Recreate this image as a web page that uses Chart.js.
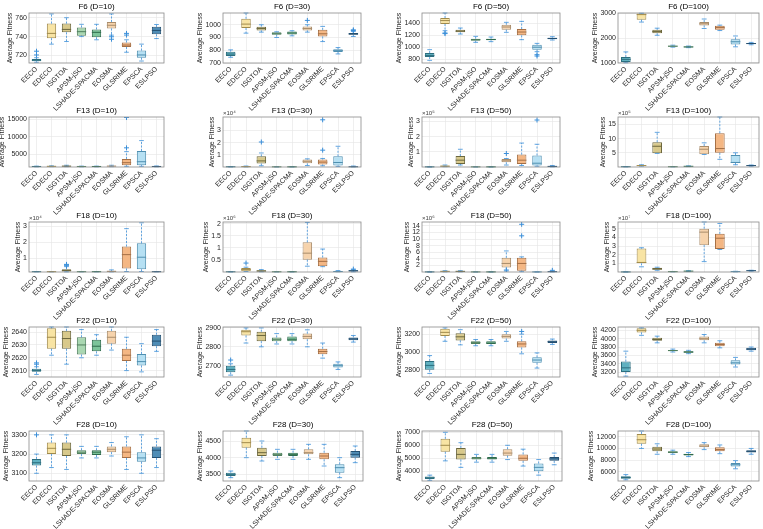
<!DOCTYPE html>
<html>
<head>
<meta charset="utf-8">
<script src="https://cdn.jsdelivr.net/npm/chart.js@4.4.0/dist/chart.umd.min.js"></script>
<style>
  body { margin: 0; background: #fff; }
  #wrap { position: relative; width: 763px; height: 529px; overflow: hidden; }
  #wrap canvas { position: absolute; }
</style>
</head>
<body>
<div id="wrap"></div>
<script>
// algorithms on the x axis
const algorithms = ['EECO', 'EDECO', 'ISGTOA', 'APSM-jSO', 'LSHADE-SPACMA', 'EOSMA', 'GLSRIME', 'EPSCA', 'ESLPSO'];

// each box: [lower whisker, q1, median, q3, upper whisker], outliers: [algorithm index, value]
const f6d10 = [[712.8,713.8,715,716.2,717.6],[732,738.3,743.4,753.8,764],[734.8,744.5,747.6,753.8,760],[740,741,745.2,749.7,753],[736.6,739.3,744.5,747.6,753],[741.5,748.6,752,755.5,764],[723.4,729,731,733.8,736.6],[714.1,717.6,720.5,725.2,732],[737.9,742.4,746.5,750.3,752.8]];
const f6d10Out = [[0,724.5],[0,720.5],[5,739.8],[5,737.2],[6,743.4],[6,741.6]];
const f6d30 = [[745,755,770,789,803],[934,974,1005,1047,1092],[942,955,970,985,1000],[900,922,930,942,945],[913,924,935,947,953],[942,955,970,987,1000],[868,908,929,960,987],[771,787,797,808,821],[908,922,928,935,947]];
const f6d30Out = [[5,1034],[8,960],[8,955]];
const f6d50 = [[784,839,865,905,960],[1273,1383,1440,1482,1565],[1218,1246,1265,1290,1317],[1081,1108,1125,1141,1180],[1092,1114,1128,1141,1169],[1246,1290,1334,1372,1411],[1125,1196,1251,1301,1427],[927,960,1000,1042,1064],[1119,1130,1145,1158,1174]];
const f6d50Out = [[1,1235],[1,1225],[7,877],[7,855]];
const f6d100 = [[1000,1027,1137,1233,1438],[2644,2740,2945,2986,3000],[2110,2192,2260,2329,2397],[1630,1650,1671,1690,1710],[1610,1620,1640,1660,1675],[2384,2507,2575,2644,2767],[2301,2329,2420,2493,2520],[1644,1740,1849,1945,2082],[1726,1753,1775,1794,1822]];
const f6d100Out = [];

const f13d10 = [[1350,1400,1450,1500,1550],[1400,1450,1500,1560,1650],[1400,1480,1550,1650,1800],[1350,1400,1450,1500,1550],[1350,1400,1450,1500,1550],[1400,1500,1560,1650,1800],[1500,1800,2546,3636,5727],[1500,1818,2818,5909,8909],[1350,1400,1450,1520,1600]];
const f13d10Out = [[6,6818],[6,15545]];
const f13d30 = [[0.01,0.015,0.02,0.025,0.03],[0.01,0.02,0.03,0.05,0.08],[0.1,0.28,0.5,0.88,1.15],[0.01,0.012,0.015,0.02,0.025],[0.01,0.012,0.015,0.02,0.025],[0.12,0.3,0.47,0.62,0.67],[0.1,0.2,0.4,0.62,0.7],[0.05,0.12,0.37,0.88,1.7],[0.01,0.015,0.02,0.03,0.08]];
const f13d30Out = [[2,2.05],[6,1.38],[6,3.87]];
const f13d50 = [[0.005,0.008,0.01,0.012,0.015],[0.02,0.03,0.05,0.1,0.13],[0.13,0.2,0.45,0.72,1.17],[0.005,0.008,0.01,0.012,0.015],[0.005,0.008,0.01,0.012,0.015],[0.13,0.31,0.41,0.52,0.56],[0.1,0.2,0.45,0.82,1.58],[0.05,0.1,0.25,0.76,1.5],[0.01,0.02,0.04,0.06,0.1]];
const f13d50Out = [[5,0.89],[7,3.1]];
const f13d100 = [[0.05,0.08,0.1,0.12,0.15],[0.3,0.4,0.5,0.6,0.8],[4.77,4.8,7.3,8.75,12.2],[0.05,0.08,0.1,0.12,0.15],[0.15,0.2,0.25,0.3,0.4],[4.4,4.5,6.25,7.4,8.5],[2.7,5,6.5,11.9,17.6],[0.8,1.4,1.6,4.2,5],[0.3,0.4,0.5,0.6,0.7]];
const f13d100Out = [];

const f18d10 = [[0.18,0.185,0.19,0.195,0.2],[0.18,0.185,0.19,0.195,0.2],[0.18,0.2,0.26,0.34,0.5],[0.18,0.185,0.19,0.195,0.2],[0.18,0.185,0.19,0.195,0.2],[0.18,0.19,0.21,0.24,0.3],[0.2,0.38,1.24,1.74,2.84],[0.2,0.34,1.08,1.94,3.2],[0.18,0.185,0.19,0.195,0.2]];
const f18d10Out = [[2,0.55],[2,0.6],[2,0.64]];
const f18d30 = [[0.005,0.008,0.01,0.012,0.015],[0.02,0.03,0.1,0.17,0.2],[0.01,0.02,0.04,0.07,0.1],[0.005,0.008,0.01,0.012,0.015],[0.005,0.008,0.01,0.012,0.015],[0.24,0.51,0.78,1.23,2.05],[0.22,0.24,0.44,0.6,0.95],[0.01,0.015,0.02,0.03,0.06],[0.01,0.02,0.05,0.07,0.1]];
const f18d30Out = [[1,0.37],[8,0.12]];
const f18d50 = [[0.01,0.02,0.03,0.04,0.05],[0.05,0.1,0.2,0.3,0.4],[0.05,0.1,0.2,0.3,0.4],[0.01,0.02,0.03,0.04,0.05],[0.01,0.02,0.03,0.04,0.05],[0.3,1.4,2.6,4.3,6.4],[0.1,0.4,2.6,4.3,4.6],[0.01,0.02,0.03,0.04,0.05],[0.02,0.05,0.1,0.15,0.2]];
const f18d50Out = [[5,0.6],[6,11],[6,14.5],[8,0.5]];
const f18d100 = [[0.005,0.008,0.01,0.012,0.015],[0.6,1.0,1.1,2.7,2.8],[0.2,0.25,0.35,0.5,0.55],[0.02,0.03,0.04,0.05,0.06],[0.05,0.08,0.1,0.12,0.15],[1.2,3.1,4.6,5.0,5.77],[2.6,2.65,3.9,4.4,5.6],[0.02,0.03,0.05,0.07,0.08],[0.1,0.12,0.15,0.18,0.2]];
const f18d100Out = [];

const f22d10 = [[2607,2609,2610,2611.5,2613],[2622,2627,2636,2643,2644],[2615,2627,2635,2641,2644],[2620,2622.5,2630,2636,2642],[2622,2625,2629,2634,2638],[2626,2631,2636,2641,2644],[2610,2617.5,2622,2627,2636],[2609,2614,2617,2623,2631],[2625,2629,2633,2638,2642]];
const f22d10Out = [[0,2615],[0,2616]];
const f22d30 = [[2650,2665,2680,2700,2710],[2820,2860,2880,2890,2900],[2800,2830,2860,2880,2900],[2815,2830,2840,2850,2870],[2815,2830,2840,2855,2870],[2800,2840,2855,2870,2890],[2740,2760,2775,2790,2820],[2680,2690,2700,2710,2720],[2825,2835,2842,2850,2860]];
const f22d30Out = [[0,2730]];
const f22d50 = [[2760,2800,2850,2900,2960],[3120,3180,3220,3260,3270],[3080,3130,3170,3210,3250],[3070,3090,3105,3120,3140],[3070,3090,3100,3120,3140],[3120,3150,3175,3200,3230],[2980,3050,3090,3120,3200],[2820,2880,2910,2940,2990],[3085,3100,3115,3130,3145]];
const f22d50Out = [[6,3230]];
const f22d100 = [[3100,3200,3300,3450,3700],[4080,4150,4200,4250,4260],[3900,3950,3980,4020,4060],[3680,3700,3715,3730,3750],[3640,3660,3680,3700,3720],[3900,3960,4000,4050,4100],[3780,3820,3860,3900,3950],[3320,3380,3420,3480,3550],[3700,3720,3750,3780,3800]];
const f22d100Out = [];

const f28d10 = [[3100,3140,3155,3175,3200],[3130,3200,3230,3260,3300],[3120,3190,3225,3260,3300],[3180,3200,3210,3220,3240],[3180,3195,3210,3220,3240],[3190,3210,3225,3240,3260],[3120,3180,3210,3240,3290],[3100,3160,3180,3210,3300],[3130,3180,3220,3240,3280]];
const f28d10Out = [[0,3300]];
const f28d30 = [[3400,3450,3500,3550,3600],[4000,4300,4450,4600,4800],[3900,4050,4150,4300,4500],[3950,4050,4100,4150,4250],[3950,4050,4100,4150,4250],[3950,4100,4150,4250,4400],[3750,3950,4050,4150,4400],[3400,3550,3700,3800,4000],[3850,4000,4100,4200,4350]];
const f28d30Out = [];
const f28d50 = [[3300,3400,3500,3600,3700],[4800,5500,6000,6500,7000],[4300,4900,5300,5800,6200],[4700,4900,5000,5100,5300],[4700,4900,5000,5100,5300],[4900,5200,5400,5700,6000],[4400,4800,5000,5300,5700],[3700,4000,4300,4600,4900],[4500,4800,4950,5100,5400]];
const f28d50Out = [];
const f28d100 = [[4600,4800,5000,5200,5500],[10000,10800,11500,12500,13000],[9000,9500,9900,10300,10800],[9000,9200,9350,9500,9700],[8600,8800,8950,9100,9300],[9800,10200,10400,10700,11000],[9100,9500,9800,10200,10600],[6500,6900,7200,7500,7900],[9000,9300,9500,9700,10000]];
const f28d100Out = [];

// y-axis limits and tick labels
const yLimits = [
  [712, 765], [700, 1092], [740, 1565], [990, 3010],
  [1300, 15700], [0, 4.1], [0, 3.3], [0, 17.6],
  [0.17, 3.25], [0, 2.07], [0, 15.2], [0, 5.77],
  [2605, 2644], [2640, 2905], [2720, 3280], [3080, 4280],
  [3060, 3320], [3300, 4800], [3250, 7100], [4400, 13000]
];
const yTicks = [
  [720, 740, 760], [700, 800, 900, 1000], [800, 1000, 1200, 1400], [1000, 2000, 3000],
  [5000, 10000, 15000], [1, 2, 3], [1, 2, 3], [5, 10, 15],
  [1, 2, 3], [0.5, 1, 1.5, 2], [2, 4, 6, 8, 10, 12, 14], [1, 2, 3, 4, 5],
  [2610, 2620, 2630, 2640], [2700, 2800, 2900], [2800, 3000, 3200], [3200, 3400, 3600, 3800, 4000, 4200],
  [3100, 3200, 3300], [3500, 4000, 4500], [4000, 5000, 6000, 7000], [6000, 8000, 10000, 12000]
];
const yExponent = [0, 0, 0, 0, 0, 4, 5, 5, 4, 6, 6, 7, 0, 0, 0, 0, 0, 0, 0, 0];
const titles = ['F6 (D=10)', 'F6 (D=30)', 'F6 (D=50)', 'F6 (D=100)',
  'F13 (D=10)', 'F13 (D=30)', 'F13 (D=50)', 'F13 (D=100)',
  'F18 (D=10)', 'F18 (D=30)', 'F18 (D=50)', 'F18 (D=100)',
  'F22 (D=10)', 'F22 (D=30)', 'F22 (D=50)', 'F22 (D=100)',
  'F28 (D=10)', 'F28 (D=30)', 'F28 (D=50)', 'F28 (D=100)'];
const stats = [f6d10, f6d30, f6d50, f6d100, f13d10, f13d30, f13d50, f13d100,
  f18d10, f18d30, f18d50, f18d100, f22d10, f22d30, f22d50, f22d100,
  f28d10, f28d30, f28d50, f28d100];
const outliers = [f6d10Out, f6d30Out, f6d50Out, f6d100Out, f13d10Out, f13d30Out, f13d50Out, f13d100Out,
  f18d10Out, f18d30Out, f18d50Out, f18d100Out, f22d10Out, f22d30Out, f22d50Out, f22d100Out,
  f28d10Out, f28d30Out, f28d50Out, f28d100Out];

const boxFill = ['#5fb1c1', '#f8e4a4', '#d8c98b', '#a9d7b1', '#7cc49a', '#f6d3ac', '#f4b784', '#b6e0f3', '#4f8db6'];
const boxEdge = ['#2d6e7e', '#a08a4c', '#6c673d', '#507f5e', '#2f6b4c', '#a88c6b', '#a56f45', '#4f8fb0', '#244f70'];
const whiskerColor = '#3b8fd9';
const fam = '"Liberation Sans", Arial, sans-serif';

// panel placement (plot areas)
const colLeft = [29, 223, 422, 618];
const colRight = [166, 363, 562, 759];
const rowTop = [13, 117, 222, 327, 431];
const plotH = 50, padTop = 13, axW = 40, axH = 48, padBottom = 20;

function boxParts(idx) {
  return {
    id: 'boxParts' + idx,
    afterDatasetsDraw(chart) {
      const { ctx, chartArea: a, scales: { x, y } } = chart;
      const meta = chart.getDatasetMeta(0);
      ctx.save();
      ctx.beginPath();
      ctx.rect(a.left, a.top - 1, a.right - a.left, a.bottom - a.top + 2);
      ctx.clip();
      stats[idx].forEach((st, i) => {
        const cx = x.getPixelForValue(i);
        const w = meta.data[i].width;
        const [lo, q1, md, q3, hi] = st.map(v => y.getPixelForValue(v));
        ctx.strokeStyle = whiskerColor;
        ctx.lineWidth = 0.8;
        ctx.setLineDash([2, 1.5]);
        ctx.beginPath();
        ctx.moveTo(cx, q3); ctx.lineTo(cx, hi);
        ctx.moveTo(cx, q1); ctx.lineTo(cx, lo);
        ctx.stroke();
        ctx.setLineDash([]);
        ctx.beginPath();
        ctx.moveTo(cx - w / 4, hi); ctx.lineTo(cx + w / 4, hi);
        ctx.moveTo(cx - w / 4, lo); ctx.lineTo(cx + w / 4, lo);
        ctx.stroke();
        ctx.strokeStyle = boxEdge[i];
        ctx.lineWidth = 1;
        ctx.beginPath();
        ctx.moveTo(cx - w / 2, md); ctx.lineTo(cx + w / 2, md);
        ctx.stroke();
      });
      ctx.restore();
    },
    afterDraw(chart) {
      const { ctx, chartArea: a, scales: { y } } = chart;
      ctx.save();
      // axes box
      ctx.strokeStyle = '#8a8a8a';
      ctx.lineWidth = 0.8;
      ctx.strokeRect(a.left, a.top, a.right - a.left, a.bottom - a.top);
      // title
      ctx.fillStyle = '#000';
      ctx.font = '8px ' + fam;
      ctx.textAlign = 'center';
      ctx.textBaseline = 'bottom';
      ctx.fillText(titles[idx], (a.left + a.right) / 2, a.top - 2);
      // exponent
      if (yExponent[idx]) {
        const sup = '⁰¹²³⁴⁵⁶⁷⁸⁹';
        ctx.font = '6px ' + fam;
        ctx.textAlign = 'left';
        ctx.fillStyle = '#404040';
        ctx.fillText('×10' + sup[yExponent[idx]], a.left, a.top - 1);
      }
      // y-axis title next to tick labels
      ctx.font = '7px ' + fam;
      let maxW = 0;
      y.ticks.forEach(t => { maxW = Math.max(maxW, ctx.measureText(String(t.value)).width); });
      ctx.translate(a.left - maxW - 4, (a.top + a.bottom) / 2);
      ctx.rotate(-Math.PI / 2);
      ctx.textAlign = 'center';
      ctx.textBaseline = 'bottom';
      ctx.fillStyle = '#262626';
      ctx.fillText('Average Fitness', 0, 0);
      ctx.restore();
    }
  };
}

const wrap = document.getElementById('wrap');
titles.forEach((title, idx) => {
  const r = Math.floor(idx / 4), c = idx % 4;
  const canvas = document.createElement('canvas');
  const left = colLeft[c] - axW;
  const width = colRight[c] - left + 3;
  const height = padTop + plotH + axH + padBottom;
  canvas.width = width;
  canvas.height = height;
  canvas.style.left = left + 'px';
  canvas.style.top = (rowTop[r] - padTop) + 'px';
  canvas.style.zIndex = String(10 - r);
  wrap.appendChild(canvas);

  const ticks = yTicks[idx];
  new Chart(canvas, {
    type: 'bar',
    data: {
      labels: algorithms,
      datasets: [
        {
          data: stats[idx].map(s => [s[1], s[3]]),
          backgroundColor: boxFill,
          borderColor: boxEdge,
          borderWidth: 1,
          borderSkipped: false,
          barPercentage: 0.62,
          categoryPercentage: 1
        },
        {
          type: 'line',
          data: outliers[idx].map(o => ({ x: algorithms[o[0]], y: o[1] })),
          showLine: false,
          pointStyle: 'cross',
          pointRadius: 2.5,
          pointBorderWidth: 1,
          borderColor: whiskerColor,
          backgroundColor: whiskerColor
        }
      ]
    },
    options: {
      responsive: false,
      animation: false,
      devicePixelRatio: 1,
      layout: { padding: { top: padTop, right: 3, left: 0, bottom: padBottom } },
      plugins: { legend: { display: false }, tooltip: { enabled: false } },
      scales: {
        x: {
          grid: { offset: false, color: '#e4e4e4', lineWidth: 0.6, drawTicks: false },
          border: { display: false },
          ticks: { autoSkip: false, maxRotation: 45, minRotation: 45, padding: 2, color: '#262626', font: { size: 7, family: fam } },
          afterFit: s => { s.height = axH; }
        },
        y: {
          min: yLimits[idx][0],
          max: yLimits[idx][1],
          grid: { color: '#e4e4e4', lineWidth: 0.6, drawTicks: false },
          border: { display: false },
          afterBuildTicks: s => { s.ticks = ticks.map(v => ({ value: v })); },
          ticks: { autoSkip: false, padding: 2, color: '#262626', font: { size: 7, family: fam }, callback: v => String(v) },
          afterFit: s => { s.width = axW; }
        }
      }
    },
    plugins: [boxParts(idx)]
  });
});
</script>
</body>
</html>
